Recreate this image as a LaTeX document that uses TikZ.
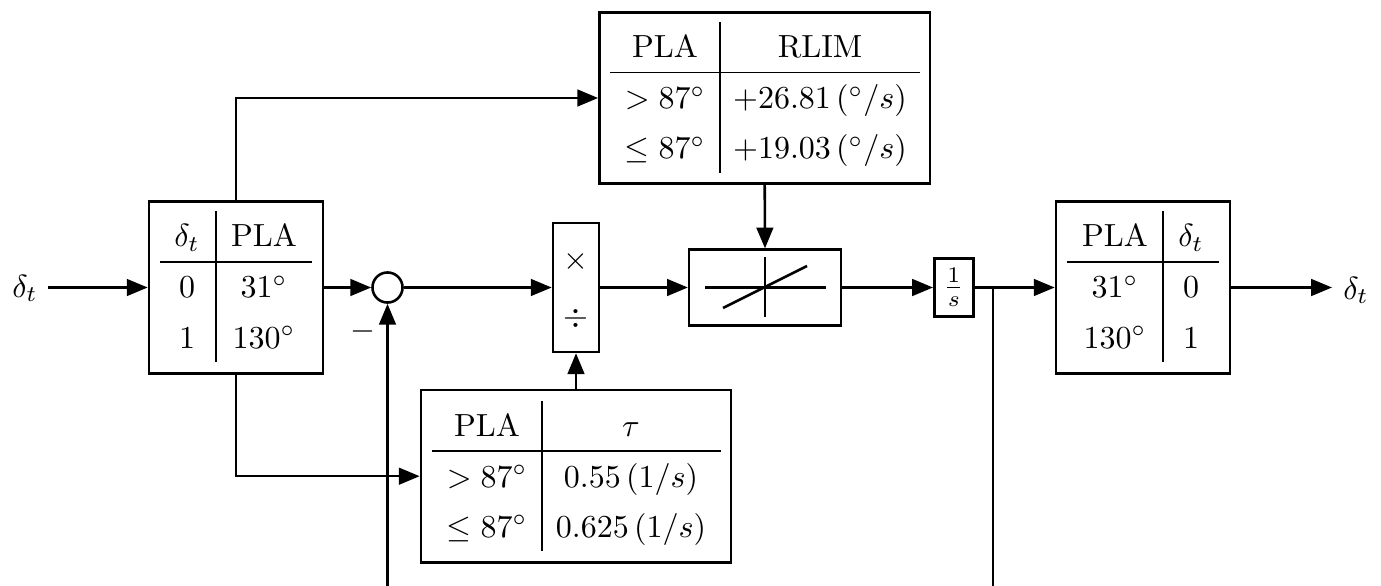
\documentclass[tikz,border=0pt]{standalone}
\usetikzlibrary{arrows.meta}
\begin{document}
\begin{tikzpicture}[x=0.3125pt,y=-0.3125pt,
  box/.style={draw,rectangle,line width=0.8pt,inner sep=0pt},
  sumc/.style={draw,circle,line width=0.8pt,inner sep=0pt,minimum size=9.4pt},
  txt/.style={anchor=base,inner sep=0pt},
  rule/.style={line width=0.4pt},
  wire/.style={line width=0.8pt},
  conn/.style={line width=0.8pt,-{Triangle[length=6.5pt,width=5.2pt]}}]
\useasboundingbox (0,0) rectangle (1381,586);

% blocks
\node[box,minimum width=54.4pt,minimum height=53.75pt] (L) at (236,287.5) {};
\node[box,minimum width=54.4pt,minimum height=53.75pt] (R) at (1143,287.5) {};
\node[box,minimum width=103.3pt,minimum height=53.4pt] (RL) at (764.7,98) {};
\node[box,minimum width=96.9pt,minimum height=53.8pt] (TA) at (576,476.2) {};
\node[box,minimum width=14.4pt,minimum height=40.3pt] (M) at (576,287.5) {};
\node[box,minimum width=47.4pt,minimum height=23.65pt] (S) at (765,287.5) {};
\node[box,minimum width=12.2pt,minimum height=18.2pt] (I) at (953.8,287.5) {$\frac{1}{s}$};
\node[sumc] (C) at (387.5,287.5) {};

% left table
\draw[rule] (160,262) -- (312,262);
\draw[rule] (216,211) -- (216,362);
\node[txt] (l11) at (187,247) {$\delta_t$};
\node[txt] (l12) at (264,247) {PLA};
\node[txt] (l21) at (187,298) {$0$};
\node[txt] (l22) at (264,298) {$31^\circ$};
\node[txt] (l31) at (187,348) {$1$};
\node[txt] (l32) at (264,348) {$130^\circ$};

% right table
\draw[rule] (1067,262) -- (1219,262);
\draw[rule] (1163,211) -- (1163,362);
\node[txt] (r11) at (1115,247) {PLA};
\node[txt] (r12) at (1191,247) {$\delta_t$};
\node[txt] (r21) at (1115,298) {$31^\circ$};
\node[txt] (r22) at (1191,298) {$0$};
\node[txt] (r31) at (1115,348) {$130^\circ$};
\node[txt] (r32) at (1191,348) {$1$};

% RLIM table
\draw[rule] (610,72.3) -- (920,72.3);
\draw[rule] (720,22) -- (720,173);
\node[txt] (a11) at (665,58) {PLA};
\node[txt] (a12) at (820,58) {RLIM};
\node[txt] (a21) at (665,109) {$>87^\circ$};
\node[txt] (a22) at (820,109) {$+26.81\,(^\circ/s)$};
\node[txt] (a31) at (665,159) {$\leq 87^\circ$};
\node[txt] (a32) at (820,159) {$+19.03\,(^\circ/s)$};

% tau table
\draw[rule] (432,451) -- (721,451);
\draw[rule] (542,401) -- (542,551);
\node[txt] (t11) at (487,436) {PLA};
\node[txt] (t12) at (631,436) {$\tau$};
\node[txt] (t21) at (487,487) {$>87^\circ$};
\node[txt] (t22) at (631,487) {$0.55\,(1/s)$};
\node[txt] (t31) at (487,537) {$\leq 87^\circ$};
\node[txt] (t32) at (631,537) {$0.625\,(1/s)$};

% multiply / divide
\node (mx) at (576,261) {$\times$};
\node (md) at (576,318) {$\div$};

% saturation symbol
\draw[wire] (705,287.5) -- (826,287.5);
\draw[wire] (765,257) -- (765,317);
\draw[wire] (723,308) -- (807,266);

% labels
\node[txt] (inlab) at (25,297) {$\delta_t$};
\node[txt] (outlab) at (1356,299) {$\delta_t$};
\node (minus) at (363,331) {$-$};

% coordinates
\coordinate (in) at (48,287.5);
\coordinate (out) at (1332,287.5);
\coordinate (fb1) at (387.5,586);
\coordinate (J) at (993,287.5);
\coordinate (fb2) at (993,586);

% connectors
\draw[conn] (in) -- (L.west);
\draw[conn] (L.east) -- (C.west);
\draw[conn] (C.east) -- (M.west);
\draw[conn] (M.east) -- (S.west);
\draw[conn] (S.east) -- (I.west);
\draw[conn] (I.east) -- (R.west);
\draw[conn] (R.east) -- (out);
\draw[conn] (L.north) |- (RL.west);
\draw[conn] (L.south) |- (TA.west);
\draw[conn] (RL.south) -- (S.north);
\draw[conn] (TA.north) -- (M.south);
\draw[conn] (fb1) -- (C.south);
\draw[wire] (J) -- (fb2);
\end{tikzpicture}
\end{document}
